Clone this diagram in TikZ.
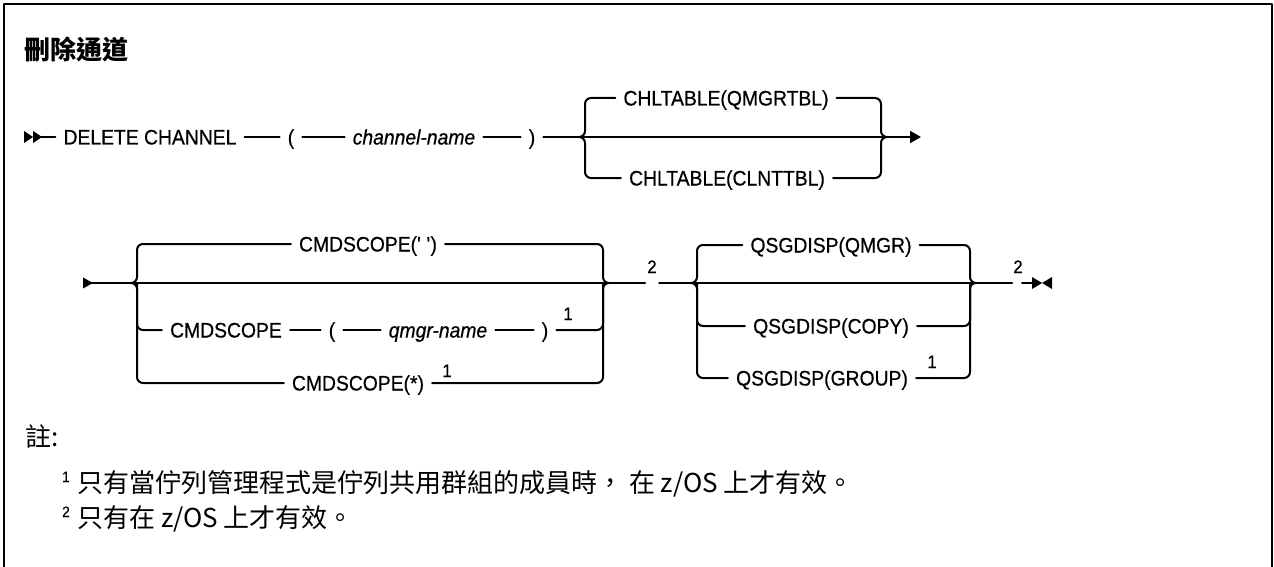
\documentclass[tikz,border=0pt]{standalone}
\usepackage{fontspec}
\newfontfamily\railfont{Liberation Sans}[FakeStretch=0.92,FakeBold=0.6]
\newfontfamily\cjkfont{Noto Sans CJK TC}
\usetikzlibrary{arrows.meta}

\begin{document}
\begin{tikzpicture}[x=1pt,y=-1pt,line cap=round,line join=round,
  rail/.style={line width=2pt},
  kw/.style={font={\railfont\fontsize{21}{25}\selectfont},inner xsep=8pt,inner ysep=0pt,text height=15pt,text depth=0pt},
  var/.style={kw,font={\railfont\itshape\fontsize{21}{25}\selectfont}},
  fn/.style={font={\railfont\fontsize{18}{20}\selectfont},inner sep=0pt,anchor=base},
  nfn/.style={fn,font={\railfont\fontsize{15}{17}\selectfont}},
  note/.style={font={\cjkfont\fontsize{26}{30}\selectfont},inner sep=0pt,anchor=base west}]
% syntax diagram for deleting a channel, with its notes below

\useasboundingbox (0,0) rectangle (1274,567);

% frame, open at the bottom
\draw[line width=2.5pt,line cap=butt] (4,567) -- (4,4) -- (1272,4) -- (1272,567);

\node[font={\cjkfont\bfseries\fontsize{26}{30}\selectfont},inner sep=0pt,anchor=base west] (title) at (24,60) {刪除通道};

% first row
\coordinate (s1) at (24,137);
\coordinate (e1) at (921,137);
\coordinate (b1l) at (585,137);
\coordinate (b1r) at (881,137);
\node[kw] (del) at (150,137) {DELETE CHANNEL};
\node[kw] (lp1) at (291,137) {(};
\node[var] (chn) at (414,137) {channel-name};
\node[kw] (rp1) at (532,137) {)};
\node[kw] (qtbl) at (726,98) {CHLTABLE(QMGRTBL)};
\node[kw] (ctbl) at (727,178) {CHLTABLE(CLNTTBL)};

\fill (s1) -- ++(0,-6) -- ++(9,6) -- ++(-9,6) -- cycle;
\fill ([xshift=9pt]s1) -- ++(0,-6) -- ++(9,6) -- ++(-9,6) -- cycle;
\draw[rail] ([xshift=16pt]s1) -- (del.west);
\draw[rail] (del.east) -- (lp1.west) (lp1.east) -- (chn.west) (chn.east) -- (rp1.west);
\draw[rail,-{Triangle[length=11pt,width=12pt]}] (rp1.east) -- (e1);

\draw[rail,rounded corners=6pt] (qtbl.west) -| (b1l) -- ++(-6,0);
\draw[rail,rounded corners=6pt] (ctbl.west) -| (b1l) -- ++(-6,0);
\draw[rail,rounded corners=6pt] (qtbl.east) -| (b1r) -- ++(6,0);
\draw[rail,rounded corners=6pt] (ctbl.east) -| (b1r) -- ++(6,0);

% second row
\coordinate (s2) at (83,283);
\coordinate (b2l) at (137,283);
\coordinate (b2r) at (603,283);
\coordinate (g2a) at (645,283);
\coordinate (g2b) at (659,283);
\coordinate (b3l) at (697,283);
\coordinate (b3r) at (970,283);
\coordinate (g3a) at (1012,283);
\coordinate (g3b) at (1022,283);
\coordinate (t) at (1032,283);

\node[kw] (cs1) at (368,244) {CMDSCOPE(\textquotesingle\ \textquotesingle)};
\node[kw] (cs2) at (226,330) {CMDSCOPE};
\node[kw] (lp2) at (332,330) {(};
\node[var] (qmn) at (438,330) {qmgr-name};
\node[kw] (rp2) at (545,330) {)};
\node[fn] (f1a) at (568,320) {1};
\node[kw] (cs3) at (358,383) {CMDSCOPE(*)};
\node[fn] (f1b) at (447,377) {1};
\node[fn] (f2a) at (652,273) {2};

\node[kw] (qsq) at (831,245) {QSGDISP(QMGR)};
\node[kw] (qsc) at (831,326) {QSGDISP(COPY)};
\node[kw] (qsg) at (822,378) {QSGDISP(GROUP)};
\node[fn] (f1c) at (932,368) {1};
\node[fn] (f2b) at (1018,273) {2};

\fill (s2) -- ++(0,-5.5) -- ++(10,5.5) -- ++(-10,5.5) -- cycle;
\draw[rail] ([xshift=9pt]s2) -- (g2a);
\draw[rail] (g2b) -- (g3a);
\draw[rail] (g3b) -- (t);
\fill (t) -- ++(0,-6) -- ++(10,6) -- ++(-10,6) -- cycle;
\fill ([xshift=20pt]t) -- ++(0,-6) -- ++(-10,6) -- ++(10,6) -- cycle;

\draw[rail] (cs2.east) -- (lp2.west) (lp2.east) -- (qmn.west) (qmn.east) -- (rp2.west);

\draw[rail,rounded corners=6pt] (cs1.west) -| (b2l) -- ++(-6,0);
\draw[rail,rounded corners=6pt] (cs3.west) -| (b2l) -- ++(-6,0);
\draw[rail,rounded corners=6pt] (cs2.west) -| (b2l);
\draw[rail,rounded corners=6pt] (cs1.east) -| (b2r) -- ++(6,0);
\draw[rail,rounded corners=6pt] (cs3.east) -| (b2r) -- ++(6,0);
\draw[rail,rounded corners=6pt] (rp2.east) -| (b2r);

\draw[rail,rounded corners=6pt] (qsq.west) -| (b3l) -- ++(-6,0);
\draw[rail,rounded corners=6pt] (qsg.west) -| (b3l) -- ++(-6,0);
\draw[rail,rounded corners=6pt] (qsc.west) -| (b3l);
\draw[rail,rounded corners=6pt] (qsq.east) -| (b3r) -- ++(6,0);
\draw[rail,rounded corners=6pt] (qsg.east) -| (b3r) -- ++(6,0);
\draw[rail,rounded corners=6pt] (qsc.east) -| (b3r);

% notes
\node[note] (nt) at (25,446) {註:};
\node[nfn] (n1k) at (66,482) {1};
\node[note] (n1) at (77,492) {只有當佇列管理程式是佇列共用群組的成員時， 在 z/OS 上才有效。};
\node[nfn] (n2k) at (66,517) {2};
\node[note] (n2) at (77,527) {只有在 z/OS 上才有效。};

\end{tikzpicture}
\end{document}
